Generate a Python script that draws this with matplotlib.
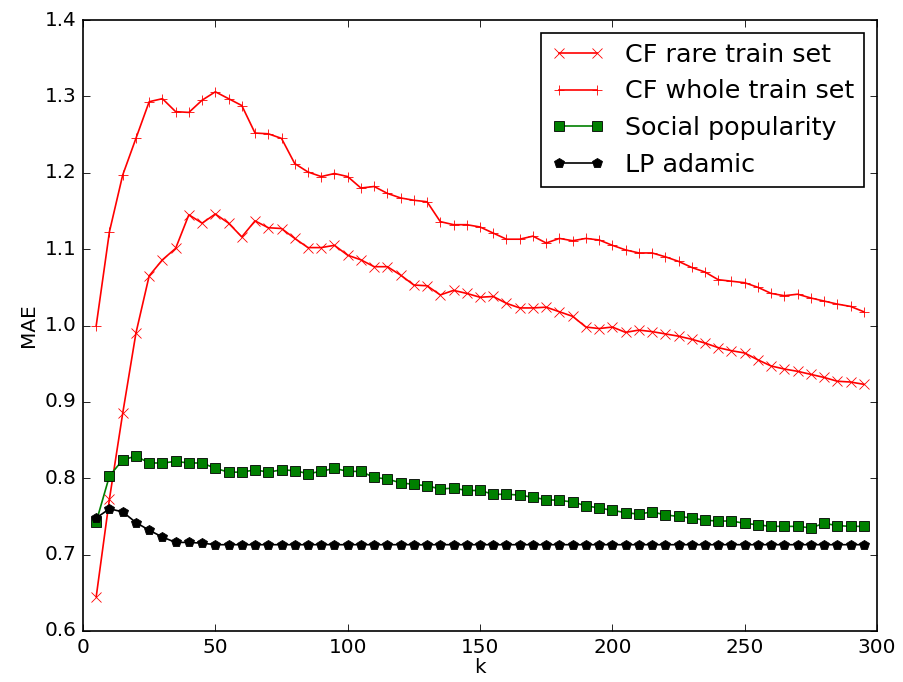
import matplotlib
matplotlib.use('Agg')
import matplotlib.pyplot as plt
import numpy as np

# k values: 5, 10, ..., 295
k = np.arange(5, 300, 5)

cf_rare = [0.645, 0.773, 0.885, 0.990, 1.065, 1.086, 1.101, 1.145, 1.134, 1.146,
           1.134, 1.116, 1.137, 1.128, 1.127, 1.114, 1.102, 1.102, 1.105, 1.092,
           1.086, 1.077, 1.077, 1.066, 1.053, 1.052, 1.040, 1.046, 1.042, 1.037,
           1.038, 1.029, 1.023, 1.023, 1.024, 1.018, 1.012, 0.998, 0.996, 0.998,
           0.991, 0.994, 0.992, 0.989, 0.986, 0.982, 0.977, 0.971, 0.967, 0.964,
           0.955, 0.947, 0.943, 0.940, 0.936, 0.932, 0.927, 0.926, 0.923]

cf_whole = [1.000, 1.123, 1.197, 1.245, 1.293, 1.297, 1.280, 1.279, 1.295, 1.306,
            1.297, 1.288, 1.252, 1.251, 1.245, 1.212, 1.201, 1.195, 1.199, 1.195,
            1.180, 1.182, 1.173, 1.167, 1.164, 1.162, 1.136, 1.132, 1.132, 1.129,
            1.121, 1.113, 1.113, 1.117, 1.108, 1.114, 1.111, 1.114, 1.112, 1.105,
            1.099, 1.095, 1.095, 1.090, 1.084, 1.076, 1.070, 1.060, 1.058, 1.056,
            1.050, 1.042, 1.039, 1.041, 1.036, 1.032, 1.028, 1.025, 1.018]

social_pop = [0.743, 0.803, 0.824, 0.829, 0.820, 0.820, 0.822, 0.820, 0.820, 0.813,
              0.808, 0.808, 0.811, 0.808, 0.811, 0.810, 0.806, 0.809, 0.813, 0.809,
              0.809, 0.801, 0.799, 0.794, 0.792, 0.790, 0.786, 0.787, 0.784, 0.784,
              0.779, 0.779, 0.778, 0.775, 0.772, 0.771, 0.769, 0.764, 0.761, 0.758,
              0.755, 0.753, 0.756, 0.752, 0.750, 0.748, 0.745, 0.744, 0.744, 0.741,
              0.739, 0.737, 0.737, 0.737, 0.735, 0.741, 0.738, 0.737, 0.737]

lp_adamic = [0.748, 0.760, 0.756, 0.742, 0.732, 0.723, 0.716, 0.716, 0.715, 0.713,
             0.713, 0.713, 0.713, 0.713, 0.713, 0.713, 0.713, 0.713, 0.713, 0.713,
             0.713, 0.713, 0.713, 0.713, 0.713, 0.713, 0.713, 0.713, 0.713, 0.713,
             0.713, 0.713, 0.713, 0.713, 0.713, 0.713, 0.713, 0.713, 0.713, 0.713,
             0.713, 0.713, 0.713, 0.713, 0.713, 0.713, 0.713, 0.713, 0.713, 0.713,
             0.713, 0.713, 0.713, 0.713, 0.713, 0.713, 0.713, 0.713, 0.713]

plt.style.use('classic')
plt.rcParams['font.family'] = ['DejaVu Sans']

dpi = 120
fig = plt.figure(figsize=(903 / dpi, 682 / dpi), dpi=dpi, facecolor='white')
ax = fig.add_axes([83 / 903, 1 - 631 / 682, 794 / 903, 611 / 682])

ax.plot(k, cf_rare, 'r-x', label='CF rare train set')
ax.plot(k, cf_whole, 'r-+', label='CF whole train set')
ax.plot(k, social_pop, 'g-s', label='Social popularity')
ax.plot(k, lp_adamic, 'k-p', label='LP adamic')

ax.set_xlim(0, 300)
ax.set_ylim(0.6, 1.4)
ax.set_xticks(np.arange(0, 301, 50))
ax.set_yticks(np.arange(0.6, 1.41, 0.1))
ax.set_xlabel('k', labelpad=1)
ax.set_ylabel('MAE', labelpad=4)
ax.legend(loc='upper right', numpoints=2, fontsize=15.2, handlelength=2.1)

fig.savefig('out.png', dpi=dpi, facecolor='white')
